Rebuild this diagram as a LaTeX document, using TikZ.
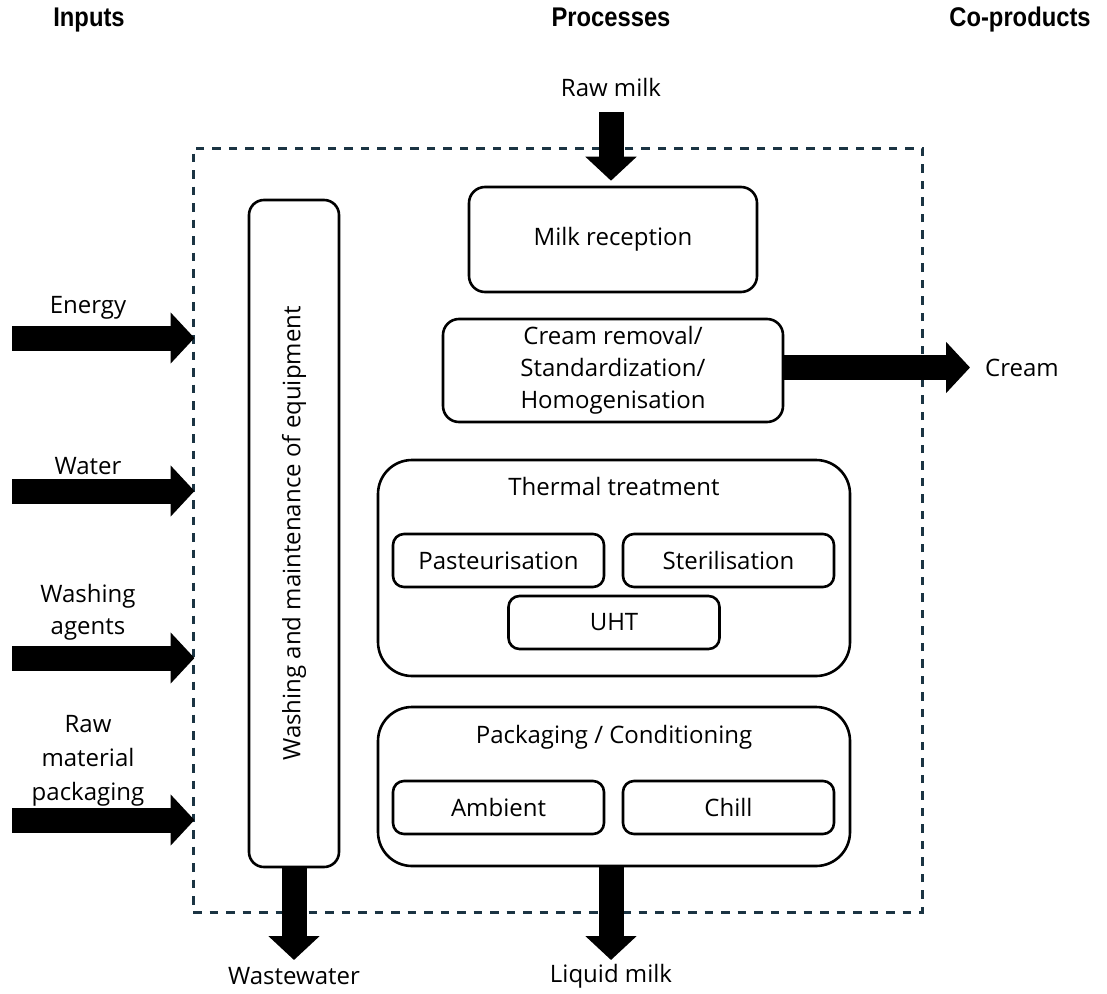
\documentclass[tikz,border=0pt]{standalone}
\usepackage{fontspec}
\setmainfont{Open Sans}
\newfontfamily\headfont[FakeStretch=0.88]{Liberation Sans}
\usetikzlibrary{arrows.meta}
\definecolor{sysline}{HTML}{1B3443}
\begin{document}
\begin{tikzpicture}[x=1pt,y=-1pt,
  txt/.style={font=\fontsize{24}{32}\selectfont, align=center, inner sep=0pt},
  head/.style={font=\headfont\bfseries\fontsize{27}{30}\selectfont, inner sep=0pt, anchor=base},
  procbox/.style={draw, line width=2.6pt, rounded corners=16pt, inner sep=0pt},
  bigbox/.style={draw, line width=2.6pt, rounded corners=34pt, inner sep=0pt},
  subbox/.style={draw, line width=2.6pt, rounded corners=11pt, inner sep=0pt,
    minimum width=211pt, minimum height=53pt, font=\fontsize{24}{32}\selectfont},
  fat/.style={line width=25pt, -{Triangle[width=50pt,length=24pt]}},
]
\useasboundingbox (0,0) rectangle (1107,993);

% column headings
\node[head] (hin)  at (89,27)   {Inputs};
\node[head] (hpr)  at (611,27)  {Processes};
\node[head] (hco)  at (1020,27) {Co-products};

% system boundary
\node[draw=sysline, line width=3pt, dash pattern=on 8.5pt off 8pt,
      minimum width=729pt, minimum height=764pt, inner sep=0pt] (sys) at (557.5,530) {};

% cleaning column
\node[procbox, rounded corners=15pt, minimum width=90pt, minimum height=667pt] (wash) at (294,533.5) {};
\node[txt, rotate=90] (washtxt) at (wash.center) {Washing and maintenance of equipment};

% process chain
\node[procbox, minimum width=288pt, minimum height=105pt, txt] (rec) at (613,239.5) {Milk reception};
\node[procbox, minimum width=340pt, minimum height=103pt, txt] (cream) at (613,370.5)
  {Cream removal/\\Standardization/\\Homogenisation};

\node[bigbox, minimum width=472pt, minimum height=216pt] (therm) at (614,568) {};
\node[txt] (thermtxt) at (614,486) {Thermal treatment};
\node[subbox] (past) at (498.5,560.5) {Pasteurisation};
\node[subbox] (ster) at (728.5,560.5) {Sterilisation};
\node[subbox] (uht)  at (614,622.5)   {UHT};

\node[bigbox, minimum width=472pt, minimum height=159pt] (pack) at (614,786.5) {};
\node[txt] (packtxt) at (614,737) {Packaging / Conditioning};
\node[subbox] (amb)   at (498.5,807.5) {Ambient};
\node[subbox] (chill) at (728.5,807.5) {Chill};

% inputs
\node[txt] (energy) at (88,308) {Energy};
\node[txt] (water)  at (88,466) {Water};
\node[txt] (wagent) at (88,612) {Washing\\agents};
\node[txt, font=\fontsize{24}{34}\selectfont] (rawpack) at (88,761) {Raw\\material\\packaging};
\coordinate (e0) at (12,338);
\coordinate (w0) at (12,491);
\coordinate (a0) at (12,658);
\coordinate (p0) at (12,820);
\draw[fat] (e0) -- ([xshift=3pt]sys.west |- e0);
\draw[fat] (w0) -- ([xshift=3pt]sys.west |- w0);
\draw[fat] (a0) -- ([xshift=3pt]sys.west |- a0);
\draw[fat] (p0) -- ([xshift=3pt]sys.west |- p0);

% raw milk in
\node[txt] (raw) at (611,87) {Raw milk};
\coordinate (r0) at (611,112);
\draw[fat] (r0) -- ([yshift=5pt]rec.north -| r0);

% co-product
\node[txt] (creamout) at (1022,368) {Cream};
\coordinate (c1) at (970,367.5);
\draw[fat] (cream.east |- c1) -- (c1);

% outputs
\node[txt] (waste) at (294,976) {Wastewater};
\node[txt] (liquid) at (611,976) {Liquid milk};
\coordinate (ww1) at (294,960);
\coordinate (lm1) at (611,960);
\draw[fat] (wash.south) -- (ww1);
\draw[fat] (pack.south -| lm1) -- (lm1);
\end{tikzpicture}
\end{document}
